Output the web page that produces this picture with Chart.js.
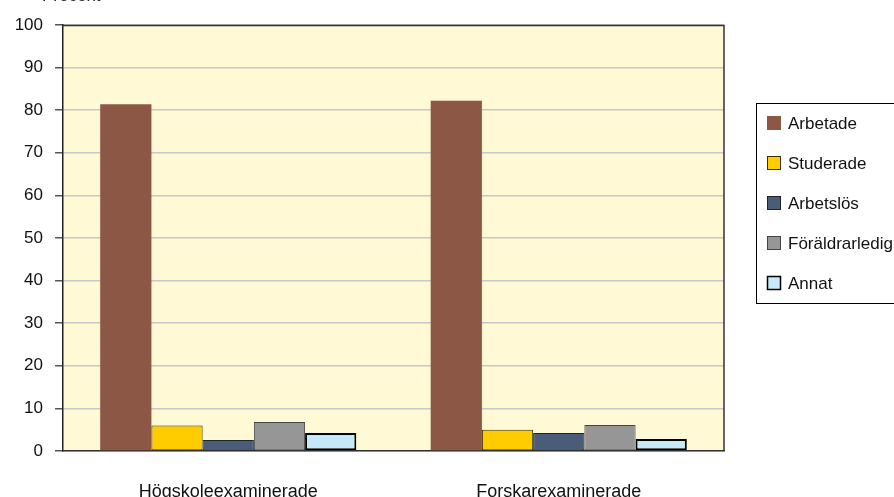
<!DOCTYPE html>
<html lang="sv">
<head>
  <meta charset="UTF-8">
  <title>Sysselsättning efter examen</title>
  <script src="https://cdn.jsdelivr.net/npm/chart.js"></script>
  <style>
    html, body { margin: 0; padding: 0; background: #fff; }
    #wrap { width: 894px; height: 497px; overflow: hidden; }
  </style>
</head>
<body>
  <div id="wrap"><canvas id="chart" width="894" height="497"></canvas></div>
  <script>
    // data
    const categories = ['Högskoleexaminerade', 'Forskarexaminerade'];
    const seriesNames = ['Arbetade', 'Studerade', 'Arbetslös', 'Föräldrarledig', 'Annat'];
    const arbetade = [81.4, 82.2];
    const studerade = [6.0, 5.0];
    const arbetslos = [2.6, 4.2];
    const foraldrarledig = [6.8, 6.1];
    const annat = [4.2, 2.8];
    const yTicks = [0, 10, 20, 30, 40, 50, 60, 70, 80, 90, 100];

    const fills = ['#8c5744', '#ffcc00', '#4a5d78', '#969696', '#c6e9f9'];
    const strokes = ['#8c5744', '#3a3000', '#222222', '#444444', '#000000'];
    const widths = [0, 1, 1, 1, 2];
    const values = [arbetade, studerade, arbetslos, foraldrarledig, annat];

    const FONT = '"Liberation Sans", Arial, sans-serif';

    // bakgrund och ram runt ritytan
    const plotFrame = {
      id: 'plotFrame',
      beforeDraw(chart) {
        const a = chart.chartArea, c = chart.ctx;
        c.save();
        c.fillStyle = '#fff9d5';
        c.fillRect(a.left, a.top, a.right - a.left, a.bottom - a.top);
        c.restore();
      },
      afterDraw(chart) {
        const a = chart.chartArea, c = chart.ctx;
        c.save();
        c.strokeStyle = '#333';
        c.lineWidth = 1.5;
        c.beginPath();
        c.moveTo(a.left, a.top + 0.5);
        c.lineTo(a.right, a.top + 0.5);
        c.lineTo(a.right, a.bottom);
        c.stroke();
        // rubrik som är avskuren i originalet
        c.fillStyle = '#222';
        c.font = '17px ' + FONT;
        c.textBaseline = 'alphabetic';
        c.fillText('Procent', 42, 1);
        c.restore();
      }
    };

    // legend i ruta till höger (delvis utanför bilden)
    const boxLegend = {
      id: 'boxLegend',
      afterDraw(chart) {
        const c = chart.ctx;
        const x0 = 756, y0 = 103, w = 160, h = 200;
        c.save();
        c.fillStyle = '#fff';
        c.fillRect(x0, y0, w, h);
        c.strokeStyle = '#000';
        c.lineWidth = 1;
        c.strokeRect(x0 + 0.5, y0 + 0.5, w, h);
        const ys = [123, 163, 203, 243, 283];
        c.font = '17px ' + FONT;
        c.textBaseline = 'middle';
        chart.data.datasets.forEach((ds, i) => {
          const y = ys[i];
          c.fillStyle = ds.backgroundColor;
          c.fillRect(767, y - 7, 14, 14);
          if (ds.borderWidth > 0) {
            c.strokeStyle = ds.borderColor;
            c.lineWidth = ds.borderWidth > 1 ? 1.5 : 1;
            c.strokeRect(767.5, y - 6.5, 13, 13);
          }
          c.fillStyle = '#111';
          c.fillText(ds.label, 788, y + 1);
        });
        c.restore();
      }
    };

    new Chart(document.getElementById('chart').getContext('2d'), {
      type: 'bar',
      data: {
        labels: categories,
        datasets: seriesNames.map((name, i) => ({
          label: name,
          data: values[i],
          backgroundColor: fills[i],
          borderColor: strokes[i],
          borderWidth: widths[i],
          borderSkipped: false,
          categoryPercentage: 0.775,
          barPercentage: 1.0
        }))
      },
      options: {
        responsive: false,
        animation: false,
        layout: { padding: { left: 0, right: 170, top: 25, bottom: 0 } },
        scales: {
          x: {
            grid: { display: false },
            border: { display: true, color: '#333', width: 1.5 },
            ticks: { color: '#111', font: { family: FONT, size: 18 }, padding: 22 },
            afterFit(scale) { scale.height = 46; }
          },
          y: {
            min: 0,
            max: 100,
            afterBuildTicks(scale) { scale.ticks = yTicks.map(v => ({ value: v })); },
            grid: { color: '#c8c8c8', lineWidth: 1.5, tickLength: 8, tickColor: '#555' },
            border: { display: true, color: '#222', width: 1.5 },
            ticks: { color: '#111', font: { family: FONT, size: 17 }, padding: 12 },
            afterFit(scale) { scale.width = 63; }
          }
        },
        plugins: {
          legend: { display: false },
          tooltip: { enabled: false }
        }
      },
      plugins: [plotFrame, boxLegend]
    });
  </script>
</body>
</html>
